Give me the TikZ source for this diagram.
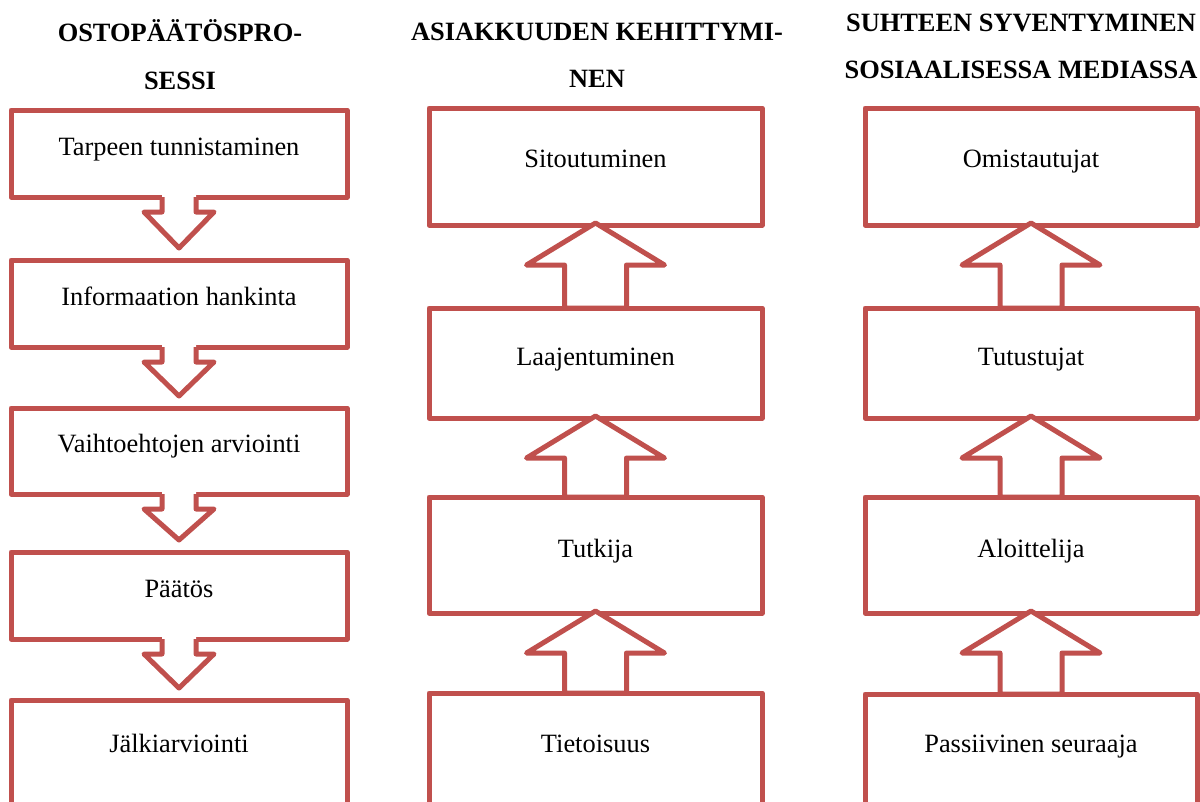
\documentclass[tikz,border=0pt]{standalone}
\usepackage{fontspec}
\setmainfont{Liberation Serif}
\usetikzlibrary{calc}
\definecolor{boxred}{RGB}{192,80,77}
\tikzset{
  stagebox/.style={draw=boxred, line width=5pt, line join=round, fill=white,
    rectangle, inner sep=0pt, outer sep=0pt, minimum width=#1},
  stagebox/.default=336pt,
  lbl/.style={anchor=base, inner sep=0pt, font=\fontsize{26.4}{30}\selectfont},
  head/.style={anchor=base, inner sep=0pt, font=\fontsize{26.4}{30}\selectfont\bfseries},
  blockarrow/.style={draw=boxred, line width=5pt, line join=round, fill=white},
}
% downward block arrow from box #1 to box #2
\newcommand\downblock[2]{%
  \fill[white] ($(#1.south)+(-17,-3)$) -- ($(#1.south)+(17,-3)$) -- ($(#1.south)+(17,15)$)
    -- ($(#1.south)+(35,15)$) -- ($(#2.north)+(0,-12)$) -- ($(#1.south)+(-35,15)$)
    -- ($(#1.south)+(-17,15)$) -- cycle;
  \draw[draw=boxred, line width=5pt, line join=round]
    ($(#1.south)+(-17,0)$) -- ($(#1.south)+(-17,15)$) -- ($(#1.south)+(-35,15)$)
    -- ($(#2.north)+(0,-12)$) -- ($(#1.south)+(35,15)$) -- ($(#1.south)+(17,15)$)
    -- ($(#1.south)+(17,0)$);
}
% upward block arrow from box #1 (below) to box #2 (above)
\newcommand\upblock[2]{%
  \draw[blockarrow] ($(#2.south)+(0,-2)$) -- ($(#2.south)+(69,40)$) -- ($(#2.south)+(31,40)$)
    -- ($(#1.north)+(31,0)$) -- ($(#1.north)+(-31,0)$) -- ($(#2.south)+(-31,40)$)
    -- ($(#2.south)+(-69,40)$) -- cycle;
}
\begin{document}
\begin{tikzpicture}[x=1pt,y=-1pt]
\useasboundingbox (0,0) rectangle (1200,801);
\clip (0,0) rectangle (1200,801);
\fill[white] (0,0) rectangle (1200,801);

% headings
\node[head] (h1a) at (180,41) {OSTOPÄÄTÖSPRO-};
\node[head] (h1b) at (180,89) {SESSI};
\node[head] (h2a) at (597,40) {ASIAKKUUDEN KEHITTYMI-};
\node[head] (h2b) at (597,87) {NEN};
\node[head] (h3a) at (1021,31) {SUHTEEN SYVENTYMINEN};
\node[head] (h3b) at (1021,78) {SOSIAALISESSA MEDIASSA};

% column 1: buying process
\node[stagebox, minimum height=87pt] (a1) at (179,153.5) {};
\node[stagebox, minimum height=87pt] (a2) at (179,303.5) {};
\node[stagebox, minimum height=86pt] (a3) at (179,451) {};
\node[stagebox, minimum height=87pt] (a4) at (179,595.5) {};
\node[stagebox, minimum height=140pt] (a5) at (179,770) {};
\downblock{a1}{a2}
\downblock{a2}{a3}
\downblock{a3}{a4}
\downblock{a4}{a5}
\node[lbl] (a1t) at (179,155) {Tarpeen tunnistaminen};
\node[lbl] (a2t) at (179,305) {Informaation hankinta};
\node[lbl] (a3t) at (179,452) {Vaihtoehtojen arviointi};
\node[lbl] (a4t) at (179,597) {Päätös};
\node[lbl] (a5t) at (179,752) {Jälkiarviointi};

% column 2: customer relationship
\node[stagebox=333pt, minimum height=117pt] (b1) at (595.5,166.5) {};
\node[stagebox=333pt, minimum height=110pt] (b2) at (595.5,363) {};
\node[stagebox=333pt, minimum height=116pt] (b3) at (595.5,555) {};
\node[stagebox=333pt, minimum height=140pt] (b4) at (595.5,763) {};
\upblock{b2}{b1}
\upblock{b3}{b2}
\upblock{b4}{b3}
\node[lbl] (b1t) at (595.5,167) {Sitoutuminen};
\node[lbl] (b2t) at (595.5,365) {Laajentuminen};
\node[lbl] (b3t) at (595.5,557) {Tutkija};
\node[lbl] (b4t) at (595.5,752) {Tietoisuus};

% column 3: social media engagement
\node[stagebox=332pt, minimum height=117pt] (c1) at (1031,166.5) {};
\node[stagebox=332pt, minimum height=110pt] (c2) at (1031,363) {};
\node[stagebox=332pt, minimum height=116pt] (c3) at (1031,555) {};
\node[stagebox=332pt, minimum height=140pt] (c4) at (1031,764) {};
\upblock{c2}{c1}
\upblock{c3}{c2}
\upblock{c4}{c3}
\node[lbl] (c1t) at (1031,167) {Omistautujat};
\node[lbl] (c2t) at (1031,365) {Tutustujat};
\node[lbl] (c3t) at (1031,557) {Aloittelija};
\node[lbl] (c4t) at (1031,752) {Passiivinen seuraaja};
\end{tikzpicture}
\end{document}
